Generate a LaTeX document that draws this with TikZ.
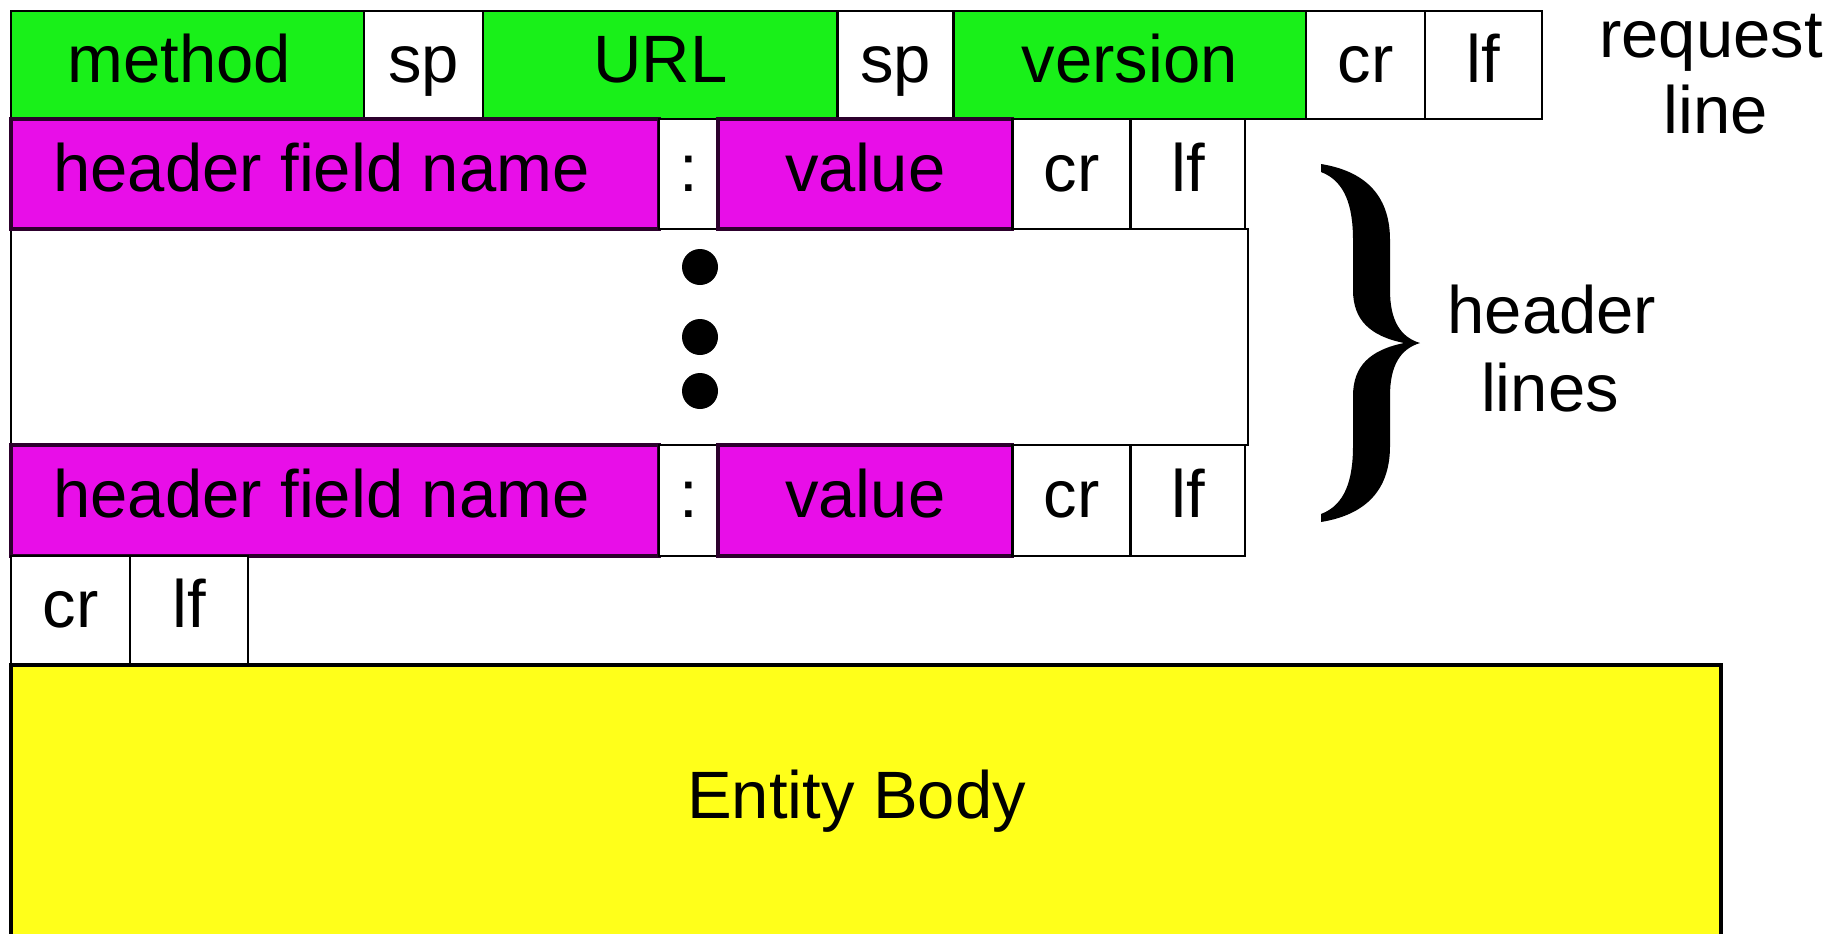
\documentclass[tikz,border=0pt]{standalone}
\usepackage{fontspec}
\setmainfont{Liberation Sans}
\definecolor{reqgreen}{RGB}{25,240,25}
\definecolor{hdrmag}{RGB}{232,14,232}
\definecolor{bodyyel}{RGB}{255,255,26}
\definecolor{magline}{RGB}{45,0,45}
\newcommand{\diagfont}{\fontsize{33.5}{40}\selectfont}
\begin{document}
\begin{tikzpicture}[x=0.5pt,y=-0.5pt,
  cell/.style={draw=black, line width=1.2pt, rectangle, inner sep=0pt, outer sep=0pt,
    anchor=north west, text height=24pt, text depth=7pt, font=\diagfont, fill=white},
  reqrow/.style={cell, minimum height=54pt},
  hrow/.style={cell, minimum height=55pt},
  hrowb/.style={cell, minimum height=55.5pt},
  crow/.style={cell, minimum height=54.5pt},
  greencell/.style={reqrow, fill=reqgreen},
  magcell/.style={fill=hdrmag, draw=magline, line width=1.8pt},
  bodycell/.style={cell, fill=bodyyel, line width=1.7pt, text height=12pt, text depth=9pt},
  textlabel/.style={font=\diagfont, anchor=base, inner sep=0pt},
  dotmark/.style={circle, fill=black, inner sep=0pt, minimum size=18pt}
]
\useasboundingbox (0,0) rectangle (1842,933);
\fill[white] (0,0) rectangle (1842,933);
\clip (0,0) rectangle (1842,933);

% request line
\node[greencell, minimum width=176.5pt] (method) at (11,11) {method\kern8pt};
\node[reqrow, minimum width=59.5pt] (sp1) at (method.north east) {sp};
\node[greencell, minimum width=177.3pt] (url) at (sp1.north east) {URL};
\node[reqrow, minimum width=58pt] (sp2) at (url.north east) {sp};
\node[greencell, minimum width=176.3pt] (version) at (sp2.north east) {version};
\node[reqrow, minimum width=59.5pt] (rcr) at (version.north east) {cr};
\node[reqrow, minimum width=58.5pt] (rlf) at (rcr.north east) {lf};

% gap between header lines
\node[cell, minimum width=618.5pt, minimum height=108pt] (gap) at (11,229) {};

% header line 1
\node[hrow, magcell, minimum width=324pt] (name1) at (11,119) {header field name\kern13.5pt};
\node[hrow, minimum width=29.5pt] (colon1) at (name1.north east) {:};
\node[hrow, magcell, minimum width=147.3pt] (value1) at (colon1.north east) {value};
\node[hrow, minimum width=59pt] (cr1) at (value1.north east) {cr};
\node[hrow, minimum width=57.3pt] (lf1) at (cr1.north east) {lf};

% dots
\node[dotmark] (d1) at (700,267) {};
\node[dotmark] (d2) at (700,337) {};
\node[dotmark] (d3) at (700,391) {};

% header line 2
\node[hrowb, magcell, minimum width=324pt] (name2) at (11,445) {header field name\kern13.5pt};
\node[hrowb, minimum width=29.5pt] (colon2) at (name2.north east) {:};
\node[hrowb, magcell, minimum width=147.3pt] (value2) at (colon2.north east) {value};
\node[hrowb, minimum width=59pt] (cr2) at (value2.north east) {cr};
\node[hrowb, minimum width=57.3pt] (lf2) at (cr2.north east) {lf};

% blank line
\node[crow, minimum width=59.5pt] (cr3) at (11,556) {cr};
\node[crow, minimum width=59pt] (lf3) at (cr3.north east) {lf};

% entity body
\node[bodycell, minimum width=855pt, minimum height=150pt] (body) at (11,665) {Entity Body\kern9.5pt};

% brace
\fill[black] (1321,164) .. controls (1370,172) and (1390,200) .. (1390,240)
  -- (1390,290)
  .. controls (1390,320) and (1400,337) .. (1420,343)
  .. controls (1400,349) and (1390,366) .. (1390,396)
  -- (1390,446)
  .. controls (1390,486) and (1370,514) .. (1321,522)
  -- (1321,514)
  .. controls (1345,505) and (1353,480) .. (1353,446)
  -- (1353,396)
  .. controls (1353,366) and (1370,350) .. (1404,343)
  .. controls (1370,336) and (1353,320) .. (1353,290)
  -- (1353,240)
  .. controls (1353,206) and (1345,181) .. (1321,172)
  -- cycle;

% labels
\node[textlabel] (req1) at (1711,57) {request};
\node[textlabel] (req2) at (1716,133) {line};
\node[textlabel] (hl1) at (1552,333) {header};
\node[textlabel] (hl2) at (1550,411) {lines};
\end{tikzpicture}
\end{document}
